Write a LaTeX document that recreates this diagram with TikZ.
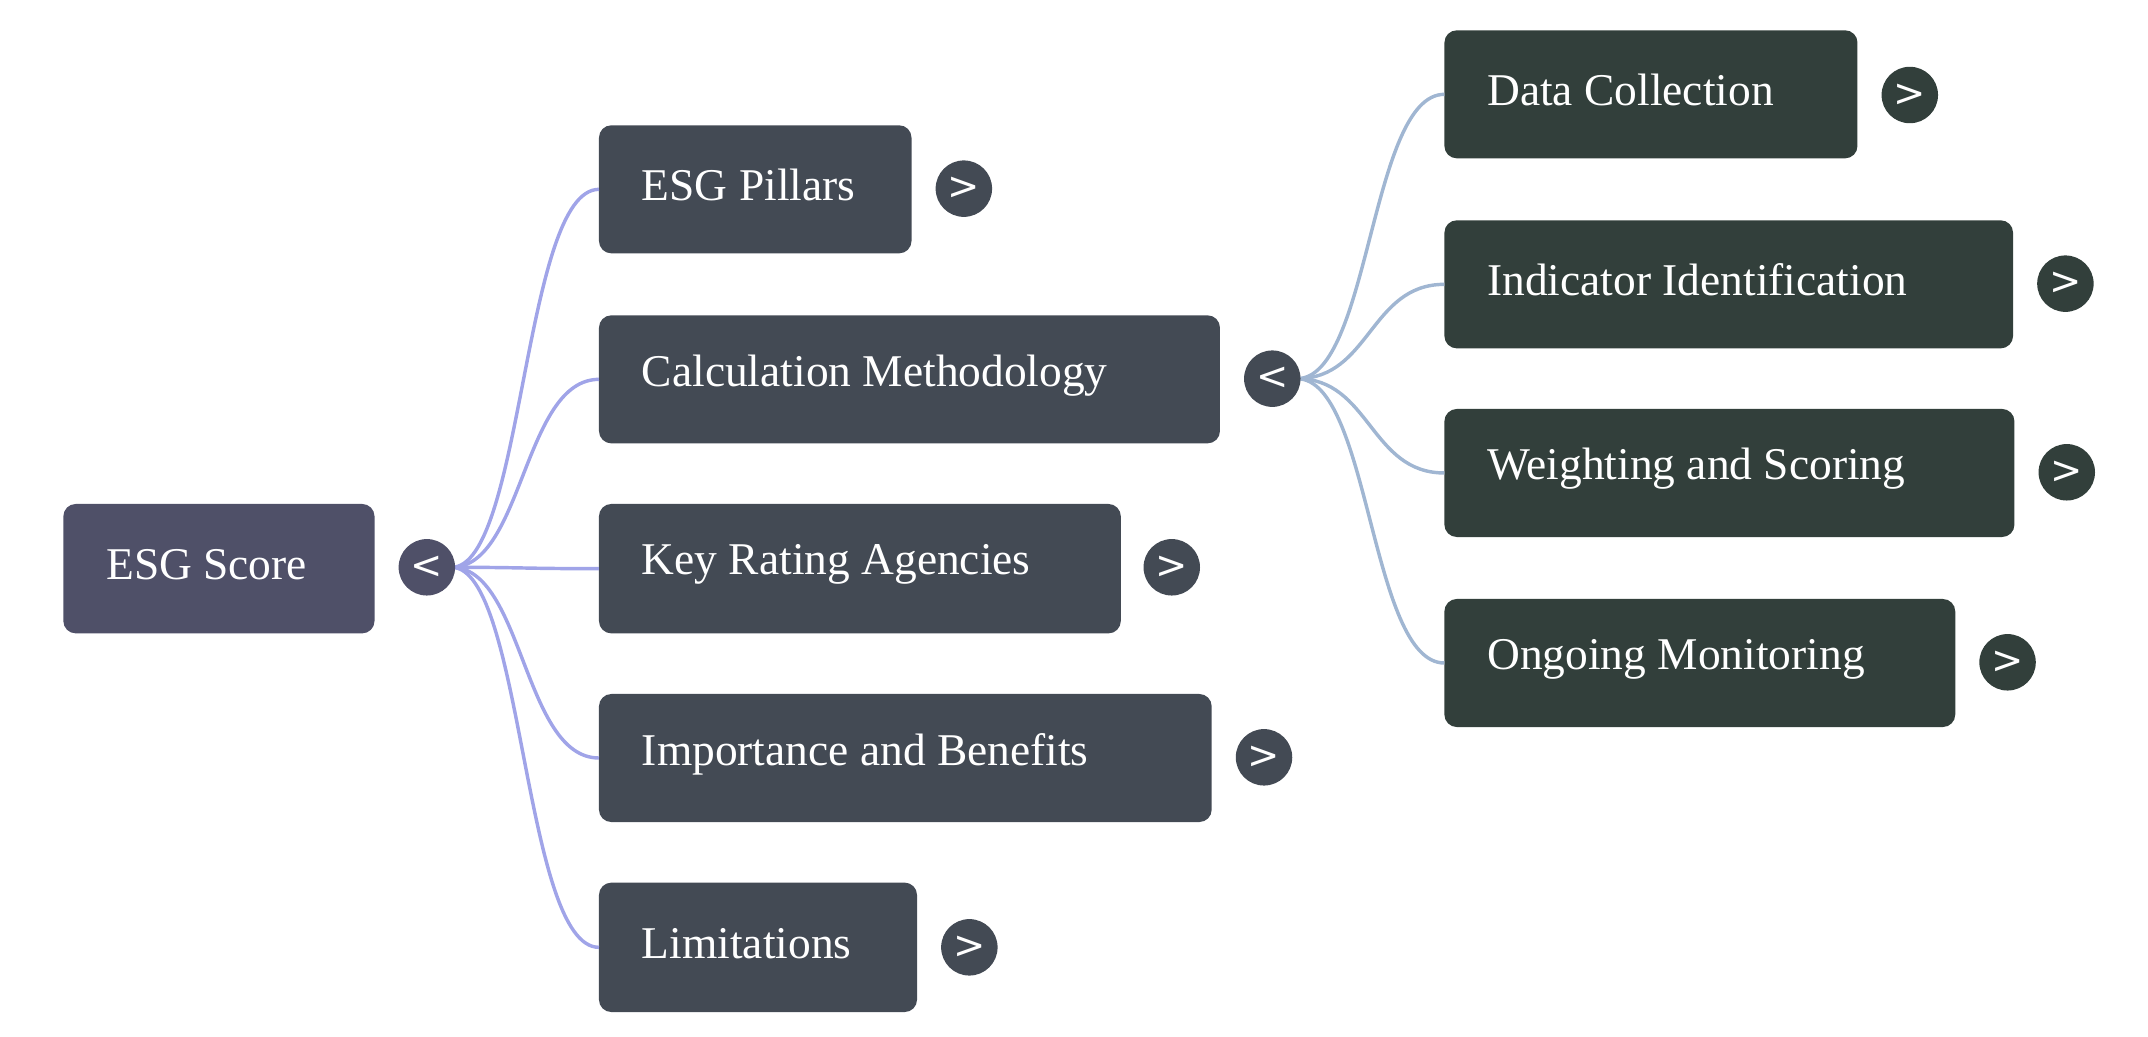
\documentclass[tikz,border=0pt]{standalone}
\usepackage{fontspec}
\setmainfont{Liberation Serif}
\newfontfamily\symf{DejaVu Sans}
\begin{document}
\begin{tikzpicture}[x=1pt,y=-1pt,
  box/.style={draw=none,rounded corners=9pt,anchor=north west,inner sep=0pt,font=\fontsize{33}{33}\selectfont,text=white,align=left},
  tog/.style={circle,minimum size=41pt,inner sep=0pt,text=white,font=\symf\fontsize{28}{28}\selectfont},
  e1/.style={draw={rgb,255:red,160;green,164;blue,232},line width=2.5pt},
  e2/.style={draw={rgb,255:red,160;green,182;blue,210},line width=2.5pt}]
\definecolor{rootc}{RGB}{79,80,104}
\definecolor{l1c}{RGB}{67,74,84}
\definecolor{l2c}{RGB}{50,63,59}
\useasboundingbox (0,0) rectangle (1560,753);
% boxes
\newcommand{\mybox}[7]{% name, x1,y1,x2,y2, color, text
  \fill[#6,rounded corners=9pt] (#2,#3) rectangle (#4,#5);
  \node[anchor=west,text=white,font=\fontsize{33}{33}\selectfont,inner sep=0pt] (#1) at ({#2+31},{(#3+#5)/2-3}) {#7};
  \coordinate (#1L) at (#2,{(#3+#5)/2});}
\mybox{root}{46}{366}{272}{460}{rootc}{ESG Score}
\mybox{a}{435}{91}{662}{184}{l1c}{ESG Pillars}
\mybox{b}{435}{229}{886}{322}{l1c}{Calculation Methodology}
\mybox{c}{435}{366}{814}{460}{l1c}{Key Rating Agencies}
\mybox{d}{435}{504}{880}{597}{l1c}{Importance and Benefits}
\mybox{f}{435}{641}{666}{735}{l1c}{Limitations}
\mybox{g}{1049}{22}{1349}{115}{l2c}{Data Collection}
\mybox{h}{1049}{160}{1462}{253}{l2c}{Indicator Identification}
\mybox{i}{1049}{297}{1463}{390}{l2c}{Weighting and Scoring}
\mybox{j}{1049}{435}{1420}{528}{l2c}{Ongoing Monitoring}
% edges
\coordinate (rs) at (328,412);
\coordinate (bs) at (942,275);
\foreach \t in {a,b,c,d,f}{\draw[e1] (rs) .. controls (380,412) and (380,0 |- \t L) .. (\t L);}
\foreach \t in {g,h,i,j}{\draw[e2] (bs) .. controls (995,275) and (995,0 |- \t L) .. (\t L);}
% toggles
\node[tog,fill=rootc] (tr) at (310,412) {<};
\node[tog,fill=l1c] (tb) at (924,275) {<};
\node[tog,fill=l1c] at (700,137) {>};
\node[tog,fill=l1c] at (851,412) {>};
\node[tog,fill=l1c] at (918,550) {>};
\node[tog,fill=l1c] at (704,688) {>};
\node[tog,fill=l2c] at (1387,69) {>};
\node[tog,fill=l2c] at (1500,206) {>};
\node[tog,fill=l2c] at (1501,343) {>};
\node[tog,fill=l2c] at (1458,481) {>};
\end{tikzpicture}
\end{document}
